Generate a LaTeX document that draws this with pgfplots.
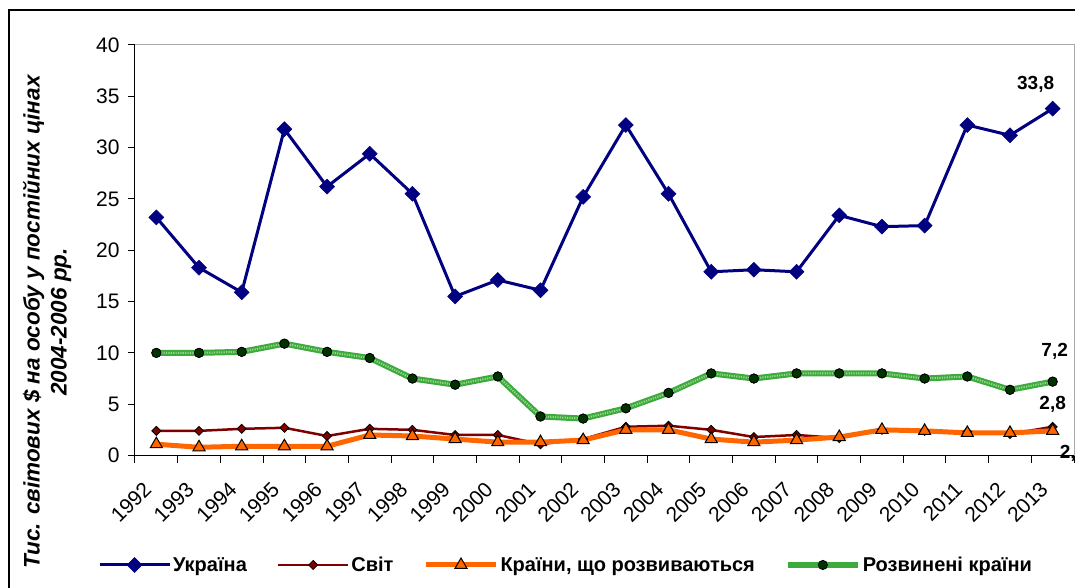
\documentclass[border=0pt]{standalone}
\usepackage{pgfplots}
\pgfplotsset{compat=1.18}
\usepackage{pgfplotstable}
\usepackage{fontspec}
\setmainfont{Liberation Sans}
\definecolor{ukr}{RGB}{0,0,128}
\definecolor{world}{RGB}{128,0,0}
\definecolor{devg}{RGB}{255,102,0}
\definecolor{devd}{RGB}{60,170,60}
\definecolor{devdlight}{RGB}{150,215,140}
\definecolor{dotg}{RGB}{0,51,0}
\definecolor{bordergray}{RGB}{170,170,170}

\pgfplotstableread{
x ukr world devg devd
0 23.2 2.4 1.1 10.0
1 18.3 2.4 0.8 10.0
2 15.9 2.6 0.9 10.1
3 31.8 2.7 0.9 10.9
4 26.2 1.9 0.9 10.1
5 29.4 2.6 2.0 9.5
6 25.5 2.5 1.9 7.5
7 15.5 2.0 1.6 6.9
8 17.1 2.0 1.3 7.7
9 16.1 1.1 1.3 3.8
10 25.2 1.6 1.5 3.6
11 32.2 2.8 2.5 4.6
12 25.5 2.9 2.5 6.1
13 17.9 2.5 1.6 8.0
14 18.1 1.8 1.3 7.5
15 17.9 2.0 1.5 8.0
16 23.4 1.7 1.8 8.0
17 22.3 2.5 2.5 8.0
18 22.4 2.4 2.4 7.5
19 32.2 2.3 2.2 7.7
20 31.2 2.1 2.2 6.4
21 33.8 2.8 2.4 7.2
}\data

\begin{document}
\begin{tikzpicture}
\begin{axis}[
  at={(0pt,0pt)}, anchor=south west,
  scale only axis, width=939pt, height=410.5pt,
  xmin=-0.5, xmax=21.5, ymin=0, ymax=40,
  clip=false,
  axis x line*=bottom, axis y line*=left,
  axis line style={black, line width=1pt, -},
  tick align=outside,
  major tick length=7pt, minor tick length=7pt,
  ytick={0,5,...,40},
  xtick={0,...,21},
  xticklabels={1992,1993,1994,1995,1996,1997,1998,1999,2000,2001,2002,2003,2004,2005,2006,2007,2008,2009,2010,2011,2012,2013},
  minor xtick={-0.5,0.5,...,21.5},
  major x tick style={draw=none},
  minor x tick style={black, line width=1pt},
  ytick style={black, line width=1pt},
  tick label style={font=\fontsize{21}{23}\selectfont},
  xticklabel style={xshift=-14pt, yshift=-13pt, rotate=45, anchor=north east},
  yticklabel style={xshift=-5pt},
  /pgf/number format/assume math mode=true,
  legend columns=4,
  legend cell align=left,
  legend style={at={(0.459,-0.2667)}, anchor=center, draw=none,
    font=\bfseries\fontsize{20}{23}\selectfont,
    /tikz/every even column/.append style={column sep=28pt}},
  legend image code/.code={\draw[mark repeat=2,mark phase=2,#1] plot coordinates {(0pt,0pt) (35pt,0pt) (70pt,0pt)};},
]
\draw[bordergray, line width=1pt] (rel axis cs:0,1) -- (rel axis cs:1,1) -- (rel axis cs:1,0);

\addplot[ukr, line width=3pt, mark=square*, mark size=5.3pt, mark options={rotate=45, fill=ukr, draw=ukr, line width=0.5pt}] table[x=x,y=ukr] {\data};
\addlegendentry{Україна}

\addplot[world, line width=2.5pt, mark=square*, mark size=3.2pt, mark options={rotate=45, fill=world, draw=black, line width=0.8pt}] table[x=x,y=world] {\data};
\addlegendentry{Світ}

\addplot[devg, line width=5pt, mark=triangle*, mark size=7pt, mark options={fill=devg, draw=black, line width=1pt}] table[x=x,y=devg] {\data};
\addlegendentry{Країни, що розвиваються}

\addplot[devd, line width=6pt, mark=*, mark size=4.6pt, mark options={fill=dotg, draw=black, line width=0.8pt}] table[x=x,y=devd] {\data};
\addlegendentry{Розвинені країни}

\addplot[devdlight, line width=2pt, dash pattern=on 1.2pt off 1.2pt, forget plot] table[x=x,y=devd] {\data};
\addplot[only marks, mark=*, mark size=4.6pt, mark options={fill=dotg, draw=black, line width=0.8pt}, forget plot] table[x=x,y=devd] {\data};

\node[font=\bfseries\fontsize{19}{21}\selectfont] at (axis cs:21,33.8) [xshift=-17pt, yshift=24pt] {33,8};
\node[font=\bfseries\fontsize{19}{21}\selectfont] at (axis cs:21,7.2) [xshift=2pt, yshift=30pt] {7,2};
\node[font=\bfseries\fontsize{19}{21}\selectfont] at (axis cs:21,2.8) [yshift=22pt] {2,8};
\node[font=\bfseries\fontsize{19}{21}\selectfont, anchor=west, inner sep=0pt] at (axis cs:21,2.4) [xshift=7pt, yshift=-22pt] {2,4};
\end{axis}
\node[rotate=90, align=center, font=\bfseries\itshape\fontsize{22.5}{27}\selectfont] at (-88pt,133.5pt) {Тис. світових \$ на особу у постійних цінах\\2004-2006 рр.};
\draw[black, line width=2pt] (-126pt,-300pt) rectangle (1200pt,445.5pt);
\pgfresetboundingbox
\useasboundingbox (-135pt,-132.5pt) rectangle (940pt,455.5pt);
\end{tikzpicture}
\end{document}
